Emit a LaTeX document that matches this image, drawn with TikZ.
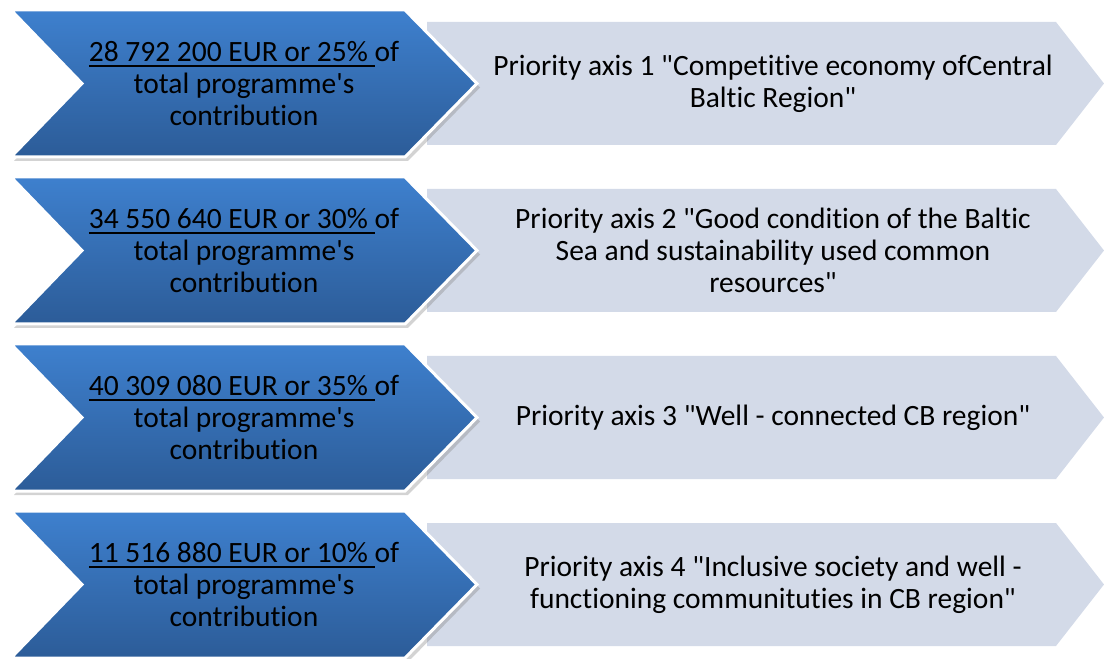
\documentclass[tikz,border=0pt]{standalone}
\usepackage{fontspec}
\setmainfont{Carlito}[Ligatures={TeX,NoCommon}]
\usetikzlibrary{shadows}
\definecolor{chevtop}{RGB}{62,128,206}
\definecolor{chevbot}{RGB}{44,92,152}
\definecolor{axisgray}{RGB}{211,218,232}
\newcommand{\apos}{\textquotesingle}
\newcommand{\dq}{\textquotedbl}
\newcommand{\uline}[1]{\setbox0\hbox{#1}\rlap{\rule[-2.6bp]{\wd0}{1bp}}\box0}
\tikzset{
  bluechev/.style={top color=chevtop, bottom color=chevbot, draw=white, line width=1.5bp,
    drop shadow={shadow xshift=1.5bp, shadow yshift=-2bp, opacity=.35}},
  graychev/.style={fill=axisgray},
  amounttext/.style={align=center, font=\fontsize{14.8}{16}\selectfont},
  axistext/.style={align=center, font=\fontsize{14.8}{16}\selectfont}
}
\begin{document}
\begin{tikzpicture}[x=0.5bp,y=-0.5bp]
    \useasboundingbox (0,0) rectangle (1104,659);
    \foreach \i in {0,1,2,3} {
        \pgfmathsetmacro\t{10+167*\i}
        \fill [graychev] (427,\t+12) -- (1056,\t+12) -- (1104,\t+73.5) -- (1056,\t+135) -- (427,\t+135) -- cycle;
        \path [bluechev] (11,\t) -- (405,\t) -- (477,\t+73.5) -- (405,\t+147) -- (11,\t+147) -- (82,\t+73.5) -- cycle;
    }
    \node [amounttext] (amount1) at (244, 83.5) {\uline{28 792 200 EUR or 25\% }of\\total programme\apos s\\contribution};
    \node [amounttext] (amount2) at (244,250.5) {\uline{34 550 640 EUR or 30\% }of\\total programme\apos s\\contribution};
    \node [amounttext] (amount3) at (244,417.5) {\uline{40 309 080 EUR or 35\% }of\\total programme\apos s\\contribution};
    \node [amounttext] (amount4) at (244,584.5) {\uline{11 516 880 EUR or 10\% }of\\total programme\apos s\\contribution};
    \node [axistext] (axis1) at (773, 83.5) {Priority axis 1 \dq Competitive economy ofCentral\\Baltic Region\dq};
    \node [axistext] (axis2) at (773,250.5) {Priority axis 2 \dq Good condition of the Baltic\\Sea and sustainability used common\\resources\dq};
    \node [axistext] (axis3) at (773,417.5) {Priority axis 3 \dq Well - connected CB region\dq};
    \node [axistext] (axis4) at (773,584.5) {Priority axis 4 \dq Inclusive society and well -\\functioning communituties in CB region\dq};
\end{tikzpicture}
\end{document}
